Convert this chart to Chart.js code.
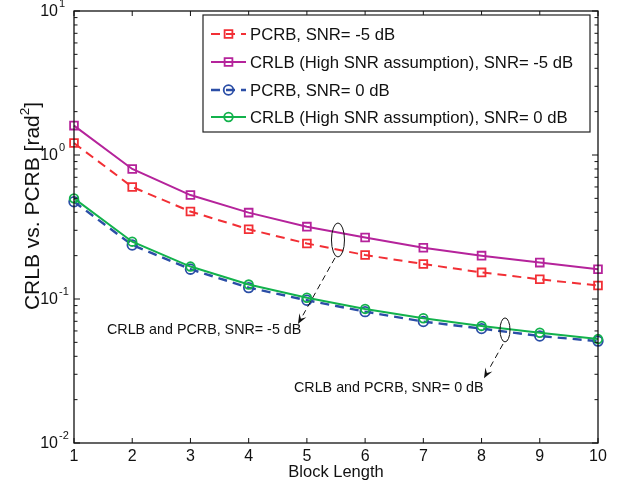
<!DOCTYPE html>
<html><head><meta charset="utf-8">
<script src="https://cdn.jsdelivr.net/npm/chart.js@4/dist/chart.umd.min.js"></script>
<style>html,body{margin:0;padding:0;background:#fff}#wrap{width:625px;height:486px;position:relative}</style>
</head><body><div id="wrap"><canvas id="c" width="625" height="486"></canvas></div>
<script>
// ---------------- data ----------------
const blockLength = [1, 2, 3, 4, 5, 6, 7, 8, 9, 10];
const pcrbM5 = [1.21, 0.60, 0.405, 0.305, 0.243, 0.202, 0.175, 0.153, 0.137, 0.124];
const crlbM5 = [1.60, 0.80, 0.527, 0.398, 0.318, 0.267, 0.227, 0.200, 0.179, 0.161];
const pcrb0  = [0.474, 0.237, 0.161, 0.120, 0.098, 0.0817, 0.0697, 0.0623, 0.0553, 0.0510];
const crlb0  = [0.50, 0.25, 0.168, 0.126, 0.102, 0.0853, 0.0735, 0.0650, 0.0583, 0.0527];
const seriesLabels = [
  'PCRB, SNR= -5 dB',
  'CRLB (High SNR assumption), SNR= -5 dB',
  'PCRB, SNR= 0 dB',
  'CRLB (High SNR assumption), SNR= 0 dB'
];
const xTicks = [1, 2, 3, 4, 5, 6, 7, 8, 9, 10];
const xTickLabels = ['1', '2', '3', '4', '5', '6', '7', '8', '9', '10'];
const yMajorTicks = [0.01, 0.1, 1, 10];
const yTickExponents = ['-2', '-1', '0', '1'];
const yMinorMultipliers = [2, 3, 4, 5, 6, 7, 8, 9];
const xTitle = 'Block Length';
const yTitleMain = 'CRLB vs. PCRB [rad';
const yTitleSup = '2';
const yTitleEnd = ']';
// annotations anchored in data coordinates
const annoTexts = ['CRLB and PCRB, SNR= -5 dB', 'CRLB and PCRB, SNR= 0 dB'];
const annoEllipse = [[5.534, 0.257], [8.403, 0.061]];
const annoArrowFrom = [[5.483, 0.193], [8.369, 0.0487]];
const annoArrowTo = [[4.847, 0.067], [8.042, 0.0282]];
const annoTextAt = [[1.567, 0.061], [4.779, 0.0241]];

// ---------------- styles ----------------
const FONT = '"Liberation Sans", Arial, Helvetica, sans-serif';
const cRed = '#f22f35', cMag = '#b5239b', cBlue = '#2b4ea6', cGreen = '#12b24c';

function mk(label, data, color, dash, style, r, bw) {
  return {
    label, data: blockLength.map((x, i) => ({x, y: data[i]})),
    borderColor: color, backgroundColor: 'transparent', borderWidth: bw,
    borderDash: dash, pointStyle: style, pointRadius: r, pointBorderWidth: 1.8,
    pointBorderColor: color, pointBackgroundColor: 'transparent',
    tension: 0, clip: false
  };
}
const datasets = [
  Object.assign(mk(seriesLabels[0], pcrbM5, cRed, [9, 6], 'rect', 5.5, 2), {order: 3}),
  Object.assign(mk(seriesLabels[1], crlbM5, cMag, [], 'rect', 5.5, 2), {order: 2}),
  Object.assign(mk(seriesLabels[2], pcrb0, cBlue, [9, 6], 'circle', 4.8, 2.4), {order: 1}),
  Object.assign(mk(seriesLabels[3], crlb0, cGreen, [], 'circle', 4.3, 2), {order: 0})
];

const decor = {
  id: 'decor',
  afterDatasetsDraw(chart) {
    const ctx = chart.ctx, a = chart.chartArea;
    const xs = chart.scales.x, ys = chart.scales.y;
    ctx.save();
    // frame
    ctx.strokeStyle = '#111'; ctx.lineWidth = 1.3; ctx.setLineDash([]);
    ctx.strokeRect(a.left, a.top, a.right - a.left, a.bottom - a.top);
    // x ticks
    ctx.lineWidth = 1;
    xTicks.forEach(v => {
      const px = xs.getPixelForValue(v);
      ctx.beginPath();
      ctx.moveTo(px, a.bottom); ctx.lineTo(px, a.bottom - 5);
      ctx.moveTo(px, a.top); ctx.lineTo(px, a.top + 5);
      ctx.stroke();
    });
    // y ticks
    yMajorTicks.forEach((v, i) => {
      const py = ys.getPixelForValue(v);
      ctx.beginPath();
      ctx.moveTo(a.left, py); ctx.lineTo(a.left + 6, py);
      ctx.moveTo(a.right, py); ctx.lineTo(a.right - 6, py);
      ctx.stroke();
      if (i < yMajorTicks.length - 1) {
        yMinorMultipliers.forEach(m => {
          const pm = ys.getPixelForValue(v * m);
          ctx.beginPath();
          ctx.moveTo(a.left, pm); ctx.lineTo(a.left + 3.5, pm);
          ctx.moveTo(a.right, pm); ctx.lineTo(a.right - 3.5, pm);
          ctx.stroke();
        });
      }
    });
    // tick labels
    ctx.fillStyle = '#111';
    ctx.font = '16px ' + FONT; ctx.textAlign = 'center'; ctx.textBaseline = 'middle';
    xTicks.forEach((v, i) => ctx.fillText(xTickLabels[i], xs.getPixelForValue(v), a.bottom + 14));
    yMajorTicks.forEach((v, i) => {
      const py = ys.getPixelForValue(v);
      ctx.font = '16px ' + FONT; ctx.textAlign = 'right'; ctx.textBaseline = 'middle';
      ctx.fillText('10', a.left - 16, py + 1);
      ctx.font = '11px ' + FONT; ctx.textAlign = 'left'; ctx.textBaseline = 'alphabetic';
      ctx.fillText(yTickExponents[i], a.left - 15, py - 4);
    });
    // axis titles
    ctx.font = '16.5px ' + FONT; ctx.textAlign = 'center'; ctx.textBaseline = 'middle';
    ctx.fillText(xTitle, (a.left + a.right) / 2, 472);
    ctx.save();
    ctx.translate(33, 206); ctx.rotate(-Math.PI / 2);
    ctx.font = '21px ' + FONT; ctx.textBaseline = 'middle'; ctx.textAlign = 'left';
    const w1 = ctx.measureText(yTitleMain).width;
    ctx.font = '13.5px ' + FONT; const w2 = ctx.measureText(yTitleSup).width;
    ctx.font = '21px ' + FONT; const w3 = ctx.measureText(yTitleEnd).width;
    let sx = -(w1 + w2 + w3) / 2;
    ctx.fillText(yTitleMain, sx, 0); sx += w1;
    ctx.font = '13.5px ' + FONT; ctx.fillText(yTitleSup, sx, -7.5); sx += w2;
    ctx.font = '21px ' + FONT; ctx.fillText(yTitleEnd, sx, 0);
    ctx.restore();
    // annotations
    ctx.strokeStyle = '#111'; ctx.fillStyle = '#111';
    annoTexts.forEach((t, i) => {
      const ex = xs.getPixelForValue(annoEllipse[i][0]), ey = ys.getPixelForValue(annoEllipse[i][1]);
      ctx.lineWidth = 1; ctx.setLineDash([]);
      ctx.beginPath();
      ctx.ellipse(ex, ey, i === 0 ? 6.5 : 5, i === 0 ? 17 : 12, 0, 0, Math.PI * 2);
      ctx.stroke();
      const x0 = xs.getPixelForValue(annoArrowFrom[i][0]), y0 = ys.getPixelForValue(annoArrowFrom[i][1]);
      const x1 = xs.getPixelForValue(annoArrowTo[i][0]), y1 = ys.getPixelForValue(annoArrowTo[i][1]);
      const ang = Math.atan2(y1 - y0, x1 - x0);
      const hl = 10, hw = 4;
      const bx = x1 - hl * Math.cos(ang), by = y1 - hl * Math.sin(ang);
      ctx.setLineDash([6, 4]); ctx.lineWidth = 1;
      ctx.beginPath(); ctx.moveTo(x0, y0); ctx.lineTo(bx, by); ctx.stroke();
      ctx.setLineDash([]);
      ctx.beginPath();
      ctx.moveTo(x1, y1);
      ctx.lineTo(bx + hw * Math.sin(ang), by - hw * Math.cos(ang));
      ctx.lineTo(x1 - 0.6 * hl * Math.cos(ang), y1 - 0.6 * hl * Math.sin(ang));
      ctx.lineTo(bx - hw * Math.sin(ang), by + hw * Math.cos(ang));
      ctx.closePath(); ctx.fill();
      ctx.font = '14.3px ' + FONT; ctx.textAlign = 'left'; ctx.textBaseline = 'middle';
      ctx.fillText(t, xs.getPixelForValue(annoTextAt[i][0]), ys.getPixelForValue(annoTextAt[i][1]));
    });
    // legend
    const L = 203, T = 15, R = 590, B = 132;
    ctx.fillStyle = '#fff'; ctx.fillRect(L, T, R - L, B - T);
    ctx.strokeStyle = '#222'; ctx.lineWidth = 1.2; ctx.strokeRect(L, T, R - L, B - T);
    const rows = [34, 62, 90, 117];
    datasets.forEach((d, i) => {
      const y = rows[i];
      ctx.strokeStyle = d.borderColor; ctx.lineWidth = d.borderWidth; ctx.setLineDash(d.borderDash);
      ctx.beginPath(); ctx.moveTo(211, y); ctx.lineTo(246, y); ctx.stroke();
      ctx.setLineDash([]);
      ctx.fillStyle = 'rgba(0,0,0,0)'; ctx.lineWidth = 1.8;
      Chart.helpers.drawPoint(ctx, {pointStyle: d.pointStyle, radius: d.pointRadius, borderWidth: 1.8}, 228.5, y);
      ctx.fillStyle = '#111'; ctx.font = '16.7px ' + FONT; ctx.textAlign = 'left'; ctx.textBaseline = 'middle';
      ctx.fillText(d.label, 250, y + 1);
    });
    ctx.restore();
  }
};

new Chart(document.getElementById('c'), {
  type: 'line',
  data: {datasets},
  options: {
    responsive: false, animation: false,
    layout: {padding: {left: 74, top: 11, right: 27, bottom: 43}},
    scales: {
      x: {type: 'linear', min: 1, max: 10, display: false},
      y: {type: 'logarithmic', min: 0.01, max: 10, display: false}
    },
    plugins: {legend: {display: false}, tooltip: {enabled: false}}
  },
  plugins: [decor]
});
</script>
</body></html>
